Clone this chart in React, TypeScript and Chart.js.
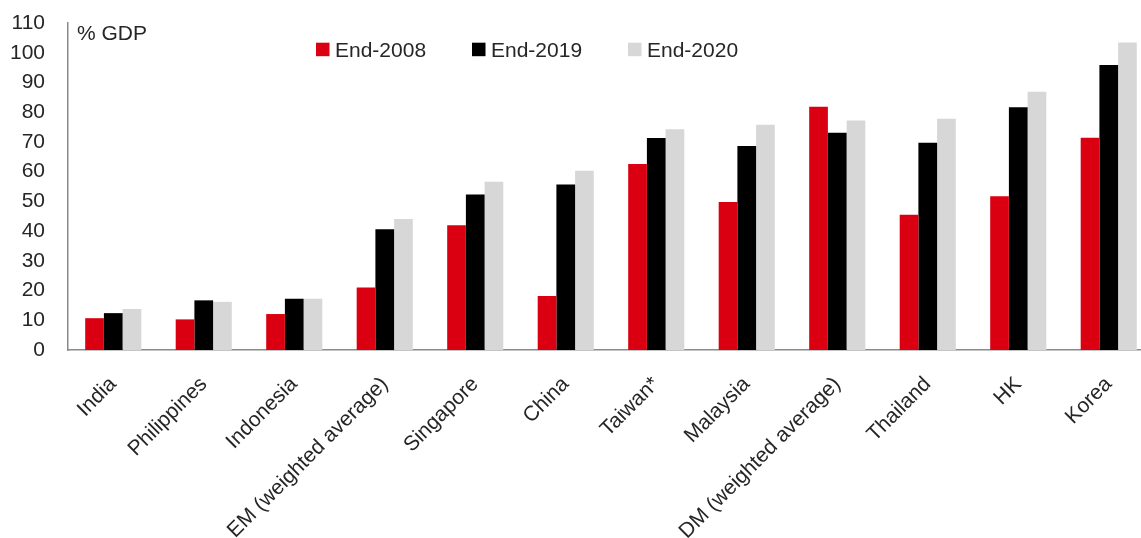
import React, { useEffect, useRef } from "react";
import { Chart, registerables } from "chart.js";

Chart.register(...registerables);

const categories = [
  "India",
  "Philippines",
  "Indonesia",
  "EM (weighted average)",
  "Singapore",
  "China",
  "Taiwan*",
  "Malaysia",
  "DM (weighted average)",
  "Thailand",
  "HK",
  "Korea",
];

const end2008 = [10.7, 10.3, 12.1, 21.0, 42.0, 18.2, 62.6, 49.8, 81.8, 45.5, 51.7, 71.4];
const end2019 = [12.4, 16.7, 17.2, 40.6, 52.3, 55.7, 71.3, 68.6, 73.1, 69.7, 81.7, 95.9];
const end2020 = [13.8, 16.2, 17.2, 44.1, 56.6, 60.3, 74.3, 75.8, 77.2, 77.8, 86.9, 103.4];

const seriesLabels = ["End-2008", "End-2019", "End-2020"];
const seriesColors = ["#DB0011", "#000000", "#D7D7D7"];

const yMin = 0;
const yMax = 110;
const yStep = 10;
const yAxisTitle = "% GDP";

const FONT = "'Liberation Sans', Arial, sans-serif";
const TEXT = "#262626";
const AXIS = "#8a8a8a";

const overlayPlugin = {
  id: "overlay",
  afterDraw(chart: any, _args: any, opts: any) {
    const ctx = chart.ctx;
    ctx.save();
    ctx.font = `21px ${FONT}`;
    ctx.fillStyle = TEXT;
    ctx.textAlign = "left";
    ctx.textBaseline = "alphabetic";
    ctx.fillText(opts.title, opts.titleX, opts.titleY);
    chart.data.datasets.forEach((ds: any, i: number) => {
      const x = opts.startX + i * opts.pitch;
      ctx.fillStyle = ds.backgroundColor;
      ctx.fillRect(x, opts.boxTop, opts.box, opts.box);
      ctx.fillStyle = TEXT;
      ctx.fillText(ds.label, x + opts.box + 5.5, opts.baseline);
    });
    ctx.restore();
  },
};

export default function App() {
  const ref = useRef<HTMLCanvasElement | null>(null);

  useEffect(() => {
    if (!ref.current) return;
    const series = [end2008, end2019, end2020];
    const chart = new Chart(ref.current, {
      type: "bar",
      data: {
        labels: categories,
        datasets: series.map((d, i) => ({
          label: seriesLabels[i],
          data: d,
          backgroundColor: seriesColors[i],
          borderWidth: 0,
          barPercentage: 1,
          categoryPercentage: 0.62,
        })),
      },
      options: {
        responsive: false,
        animation: false,
        layout: { padding: { top: 23, right: 6, bottom: 0, left: 0 } },
        plugins: {
          legend: { display: false },
          tooltip: { enabled: false },
          overlay: {
            title: yAxisTitle,
            titleX: 77,
            titleY: 39.5,
            startX: 316,
            pitch: 156,
            box: 13.5,
            boxTop: 42.7,
            baseline: 56.7,
          },
        } as any,
        scales: {
          x: {
            grid: { display: false, drawTicks: true, tickLength: 22 },
            border: { display: true, color: AXIS, width: 1.5 },
            ticks: {
              autoSkip: false,
              minRotation: 45,
              maxRotation: 45,
              padding: 0,
              color: TEXT,
              font: { family: FONT, size: 21 },
            },
            afterFit: (scale: any) => {
              scale.height = 188;
            },
          },
          y: {
            min: yMin,
            max: yMax,
            grid: { display: false, drawTicks: true, tickLength: 23 },
            border: { display: true, color: AXIS, width: 1.5 },
            ticks: {
              stepSize: yStep,
              padding: 0,
              color: TEXT,
              font: { family: FONT, size: 21 },
            },
            afterFit: (scale: any) => {
              scale.width = 68;
            },
          },
        },
      },
      plugins: [overlayPlugin],
    });
    return () => chart.destroy();
  }, []);

  return (
    <div
      style={{
        position: "fixed",
        left: 0,
        top: 0,
        width: 1141,
        height: 538,
        overflow: "hidden",
        background: "#fff",
      }}
    >
      <canvas ref={ref} width={1160} height={538} style={{ display: "block" }} />
    </div>
  );
}
